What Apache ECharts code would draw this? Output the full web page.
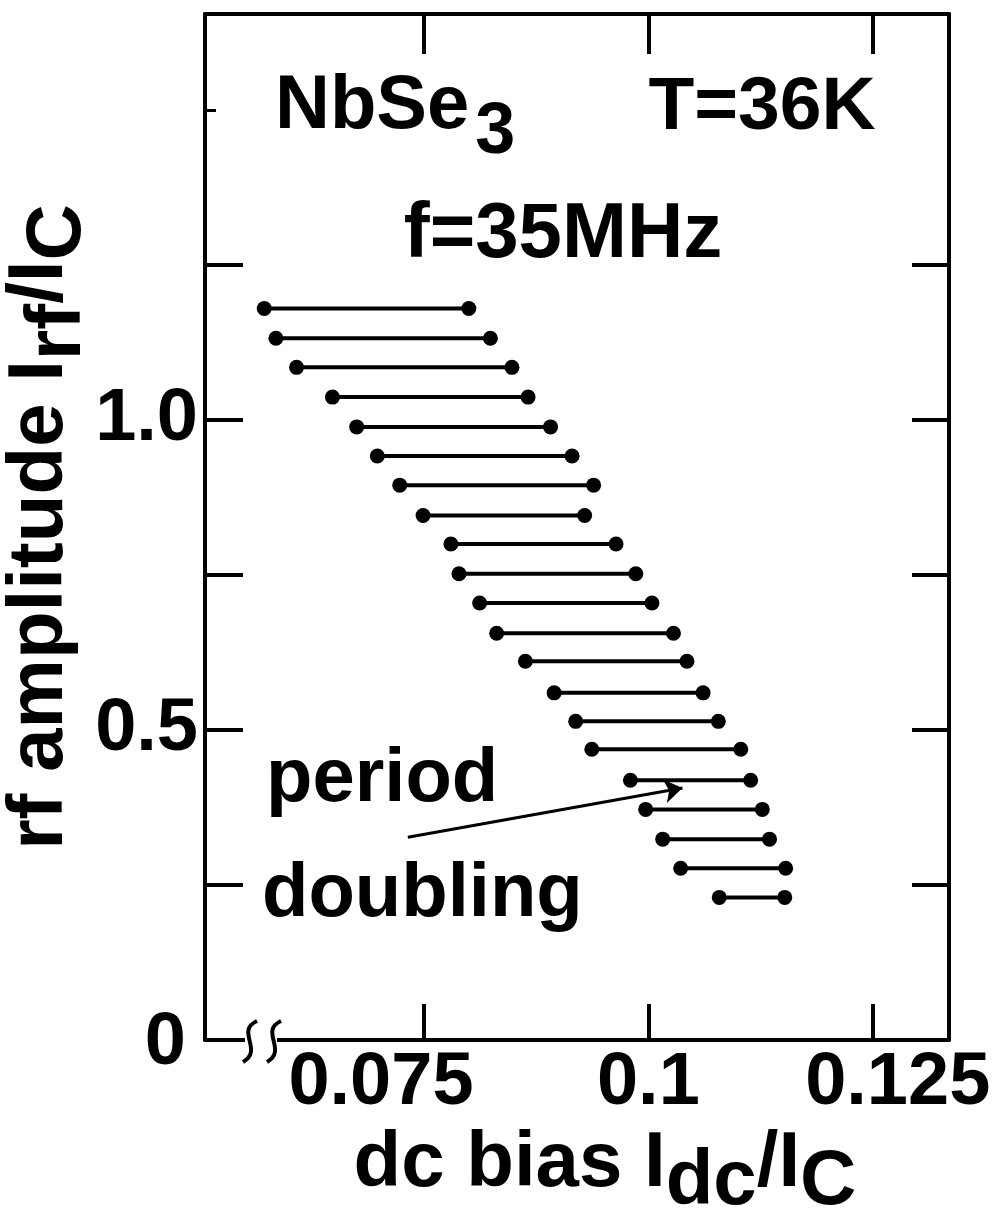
<!DOCTYPE html>
<html><head><meta charset="utf-8">
<script src="https://cdn.jsdelivr.net/npm/echarts@6/dist/echarts.min.js"></script>
<style>html,body{margin:0;padding:0;background:#fff}#c{width:997px;height:1208px}</style>
</head><body><div id="c"></div>
<script>
// rf amplitude (I_rf/I_C) of each measured row
const rfAmplitude = [1.180,1.132,1.085,1.037,0.989,0.942,0.895,0.846,0.800,0.752,0.705,0.656,0.611,0.560,0.514,0.469,0.419,0.372,0.324,0.277,0.230];
// dc bias (I_dc/I_C) at onset and end of period doubling for each row
const biasStart = [0.0572,0.0585,0.0608,0.0648,0.0675,0.0698,0.0723,0.0749,0.0780,0.0789,0.0812,0.0831,0.0863,0.0895,0.0919,0.0937,0.0980,0.0997,0.1016,0.1036,0.1079];
const biasEnd   = [0.0800,0.0824,0.0848,0.0866,0.0891,0.0915,0.0939,0.0929,0.0964,0.0986,0.1004,0.1028,0.1043,0.1061,0.1078,0.1103,0.1114,0.1127,0.1135,0.1153,0.1152];
const xTicks = [0.075, 0.1, 0.125];
const xTickLabels = ['0.075', '0.1', '0.125'];
const yTicks = [0.25, 0.5, 0.75, 1.0, 1.25];
const yLabelValues = [0, 0.5, 1.0];
const arrowFrom = [0.0732, 0.327];
const arrowTo = [0.1038, 0.4065];

const FONT = "'Liberation Sans', Arial, Helvetica, sans-serif";
const rows = rfAmplitude.map((y, i) => [y, biasStart[i], biasEnd[i]]);
const X_MIN = 0.0506, X_MAX = 0.1335, Y_MIN = 0, Y_MAX = 1.655;

const chart = echarts.init(document.getElementById('c'), null, {renderer: 'canvas'});
const lineStyle = {color: '#000', width: 4};
chart.setOption({
  backgroundColor: '#fff',
  animation: false,
  grid: {left: 205, right: 48, top: 14, bottom: 168, containLabel: false, outerBoundsMode: 'none'},
  xAxis: [{
    type: 'value', position: 'bottom', min: X_MIN, max: X_MAX,
    axisLine: {show: true, onZero: false, lineStyle},
    axisTick: {show: true, inside: true, length: 36, customValues: xTicks, lineStyle},
    splitLine: {show: false},
    axisLabel: {
      show: true, customValues: xTicks, margin: 7,
      fontFamily: FONT, fontWeight: 'bold', fontSize: 74, color: '#000',
      formatter: v => {
        const i = xTicks.findIndex(t => Math.abs(t - v) < 1e-6);
        const s = xTickLabels[i];
        return i === 0 ? '{a|' + s + '}' : (i === 2 ? '{b|' + s + '}' : s);
      },
      rich: {
        a: {fontFamily: FONT, fontWeight: 'bold', fontSize: 74, color: '#000', padding: [0, 86, 0, 0]},
        b: {fontFamily: FONT, fontWeight: 'bold', fontSize: 74, color: '#000', padding: [0, 0, 0, 50]}
      }
    },
    name: '{n|dc bias I}{s|dc}{n|/I}{s|C}',
    nameLocation: 'middle', nameGap: 78,
    nameTextStyle: {
      padding: [0, 0, 0, 56],
      rich: {
        n: {fontFamily: FONT, fontWeight: 'bold', fontSize: 78, color: '#000', padding: [0, 0, 18, 0]},
        s: {fontFamily: FONT, fontWeight: 'bold', fontSize: 78, color: '#000', padding: [18, 0, 0, 0]}
      }
    }
  }, {
    type: 'value', position: 'top', min: X_MIN, max: X_MAX,
    axisLine: {show: true, onZero: false, lineStyle},
    axisTick: {show: true, inside: true, length: 40, customValues: xTicks, lineStyle},
    axisLabel: {show: false}, splitLine: {show: false}
  }],
  yAxis: [{
    type: 'value', position: 'left', min: Y_MIN, max: Y_MAX,
    axisLine: {show: true, onZero: false, lineStyle},
    axisTick: {show: true, inside: true, length: 38, customValues: yTicks, lineStyle},
    splitLine: {show: false},
    axisLabel: {
      show: true, customValues: yLabelValues, margin: 7,
      fontFamily: FONT, fontWeight: 'bold', fontSize: 74, color: '#000',
      formatter: v => v === 0 ? '{z|0}' : v.toFixed(1),
      rich: {z: {fontFamily: FONT, fontWeight: 'bold', fontSize: 74, color: '#000', padding: [8, 12, 0, 0]}}
    },
    name: '{n|rf amplitude I}{s|rf}{n|/I}{s|C}',
    nameLocation: 'middle', nameGap: 108, nameMoveOverlap: false,
    nameTextStyle: {
      rich: {
        n: {fontFamily: FONT, fontWeight: 'bold', fontSize: 78, color: '#000', padding: [0, 0, 18, 0]},
        s: {fontFamily: FONT, fontWeight: 'bold', fontSize: 78, color: '#000', padding: [18, 0, 0, 0]}
      }
    }
  }, {
    type: 'value', position: 'right', min: Y_MIN, max: Y_MAX,
    axisLine: {show: true, onZero: false, lineStyle},
    axisTick: {show: true, inside: true, length: 37, customValues: yTicks, lineStyle},
    axisLabel: {show: false}, splitLine: {show: false}
  }, {
    type: 'value', position: 'left', min: Y_MIN, max: Y_MAX,
    axisLine: {show: false, onZero: false},
    axisTick: {show: true, inside: true, length: 11, customValues: [1.5], lineStyle: {color: '#000', width: 3}},
    axisLabel: {show: false}, splitLine: {show: false}
  }],
  series: [{
    type: 'custom',
    xAxisIndex: 0, yAxisIndex: 0,
    data: rows,
    encode: {x: [1, 2], y: 0},
    renderItem: (params, api) => {
      const y = api.value(0), x0 = api.value(1), x1 = api.value(2);
      const p0 = api.coord([x0, y]), p1 = api.coord([x1, y]);
      return {type: 'group', children: [
        {type: 'line', shape: {x1: p0[0], y1: p0[1], x2: p1[0], y2: p1[1]}, style: {stroke: '#000', lineWidth: 4}},
        {type: 'circle', shape: {cx: p0[0], cy: p0[1], r: 7.5}, style: {fill: '#000'}},
        {type: 'circle', shape: {cx: p1[0], cy: p1[1], r: 7.5}, style: {fill: '#000'}}
      ]};
    }
  }, {
    type: 'lines',
    coordinateSystem: 'cartesian2d',
    xAxisIndex: 0, yAxisIndex: 0,
    symbol: ['none', 'arrow'], symbolSize: 18,
    lineStyle: {color: '#000', width: 3, opacity: 1, curveness: 0},
    data: [{coords: [arrowFrom, arrowTo]}]
  }],
  graphic: [
    {type: 'rect', z: 100, shape: {x: 245, y: 1035, width: 32, height: 10}, style: {fill: '#fff'}},
    {type: 'bezierCurve', z: 101, shape: {x1: 257, y1: 1021, cpx1: 235, cpy1: 1031, cpx2: 264, cpy2: 1050, x2: 243, y2: 1062}, style: {stroke: '#000', lineWidth: 4, fill: null}},
    {type: 'bezierCurve', z: 101, shape: {x1: 281, y1: 1021, cpx1: 259, cpy1: 1031, cpx2: 288, cpy2: 1050, x2: 267, y2: 1062}, style: {stroke: '#000', lineWidth: 4, fill: null}},
    {type: 'text', z: 101, x: 275, y: 120, style: {
      text: '{n|NbSe}{s|3}', align: 'left', verticalAlign: 'middle',
      rich: {
        n: {fontFamily: FONT, fontWeight: 'bold', fontSize: 76, fill: '#000', padding: [0, 0, 26, 0]},
        s: {fontFamily: FONT, fontWeight: 'bold', fontSize: 72, fill: '#000', padding: [26, 0, 0, 6]}
      }}},
    {type: 'text', z: 101, x: 762, y: 108, style: {text: 'T=36K', align: 'center', verticalAlign: 'middle', fontFamily: FONT, fontWeight: 'bold', fontSize: 75, fill: '#000'}},
    {type: 'text', z: 101, x: 563, y: 235, style: {text: 'f=35MHz', align: 'center', verticalAlign: 'middle', fontFamily: FONT, fontWeight: 'bold', fontSize: 78, fill: '#000'}},
    {type: 'text', z: 101, x: 266, y: 780, style: {text: 'period', align: 'left', verticalAlign: 'middle', fontFamily: FONT, fontWeight: 'bold', fontSize: 76, fill: '#000'}},
    {type: 'text', z: 101, x: 262, y: 895, style: {text: 'doubling', align: 'left', verticalAlign: 'middle', fontFamily: FONT, fontWeight: 'bold', fontSize: 76, fill: '#000'}}
  ]
});
</script>
</body></html>
